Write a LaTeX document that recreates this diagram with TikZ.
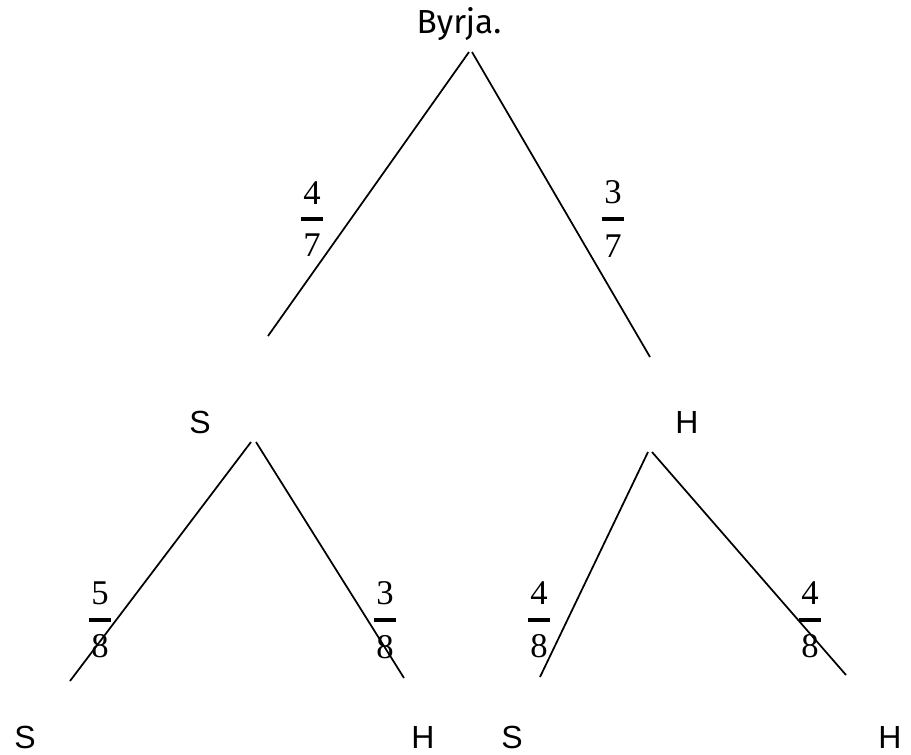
\documentclass[tikz,border=0pt]{standalone}
\usepackage{fontspec}
\setmainfont{Liberation Serif}
\newfontfamily\labelfont{Liberation Sans}
\newfontfamily\rootfont{Fira Sans}
\usepackage{tikz}
\usetikzlibrary{positioning}

% fraction: numerator, thick bar, denominator
\newcommand{\brot}[2]{\vbox{\offinterlineskip\halign{\hfil##\hfil\cr #1\cr\noalign{\kern9.8pt}\rule{17pt}{3pt}\cr\noalign{\kern9.8pt}#2\cr}}}

\begin{document}
\begin{tikzpicture}[
    x=0.75pt, y=-0.75pt,
    leaf/.style={inner sep=0pt, font=\labelfont\fontsize{24}{28}\selectfont},
    prob/.style={inner sep=0pt, font=\fontsize{26}{30}\selectfont},
    grein/.style={line width=1.3pt}
]
    \useasboundingbox (0,0) rectangle (911,754);

    % labels
    \node[inner sep=0pt, anchor=base, font=\rootfont\fontsize{25}{30}\selectfont] (root) at (459,33) {Byrja.};
    \node[leaf] (s1) at (200,422) {S};
    \node[leaf] (h1) at (687,422) {H};
    \node[leaf] (s2) at (25,737) {S};
    \node[leaf] (h2) at (423,737) {H};
    \node[leaf] (s3) at (512,737) {S};
    \node[leaf] (h3) at (890,737) {H};

    % branch ends
    \coordinate (rootL) at (469,52);
    \coordinate (rootR) at (472,52);
    \coordinate (s1in) at (268,336);
    \coordinate (h1in) at (650,357);
    \coordinate (s1L) at (251,442);
    \coordinate (s1R) at (256,442);
    \coordinate (h1L) at (648,452);
    \coordinate (h1R) at (652,452);
    \coordinate (s2in) at (70,681);
    \coordinate (h2in) at (404,678);
    \coordinate (s3in) at (540,677);
    \coordinate (h3in) at (846,675);

    \draw[grein] (rootL) -- (s1in);
    \draw[grein] (rootR) -- (h1in);
    \draw[grein] (s1L) -- (s2in);
    \draw[grein] (s1R) -- (h2in);
    \draw[grein] (h1L) -- (s3in);
    \draw[grein] (h1R) -- (h3in);

    % probabilities
    \node[prob] (p1) at (312,219) {\brot{4}{7}};
    \node[prob] (p2) at (613,219) {\brot{3}{7}};
    \node[prob] (p3) at (100,620) {\brot{5}{8}};
    \node[prob] (p4) at (385,620) {\brot{3}{8}};
    \node[prob] (p5) at (539,620) {\brot{4}{8}};
    \node[prob] (p6) at (810,620) {\brot{4}{8}};
\end{tikzpicture}
\end{document}
